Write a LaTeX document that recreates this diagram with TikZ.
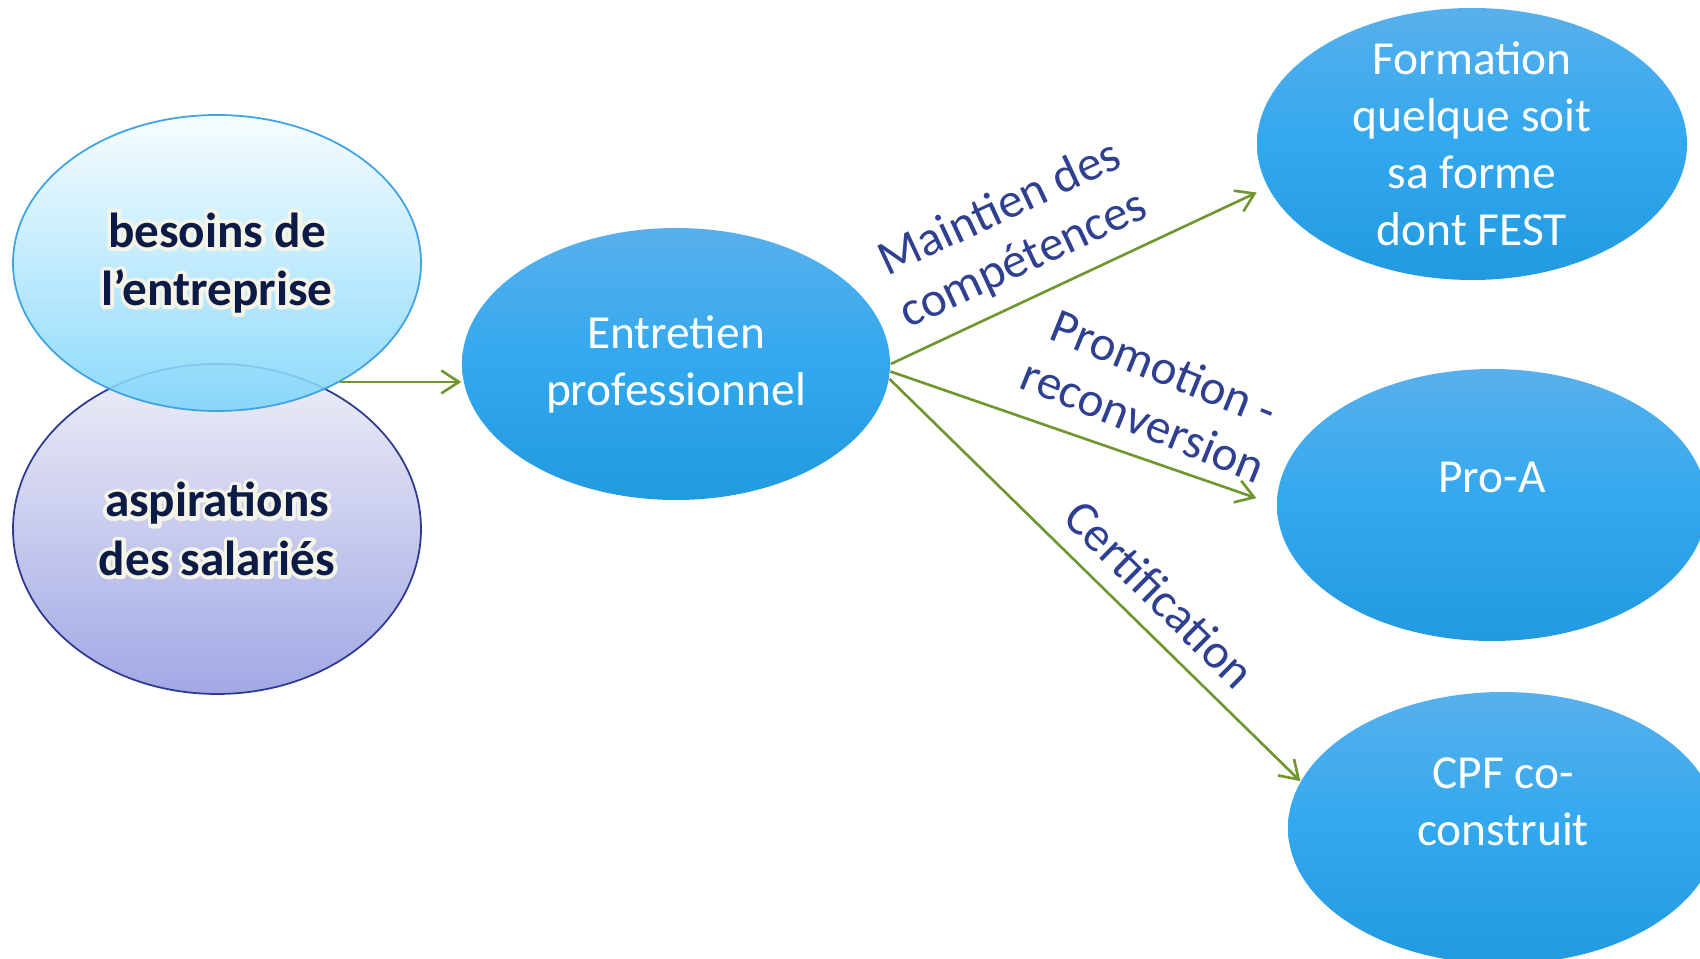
\documentclass[tikz,border=0pt]{standalone}
\usepackage{fontspec}
\setmainfont{Carlito}
\usetikzlibrary{shapes.geometric,arrows.meta}
\definecolor{blueTop}{RGB}{88,176,236}
\definecolor{blueMid}{RGB}{50,168,238}
\definecolor{blueBot}{RGB}{34,154,224}
\definecolor{besTop}{RGB}{246,252,255}
\definecolor{besBot}{RGB}{124,213,251}
\definecolor{besBorder}{RGB}{62,163,227}
\definecolor{aspTop}{RGB}{238,238,247}
\definecolor{aspBot}{RGB}{162,168,229}
\definecolor{aspBorder}{RGB}{46,58,143}
\definecolor{navyText}{RGB}{12,26,70}
\definecolor{glow}{RGB}{244,244,232}
\definecolor{labelBlue}{RGB}{47,64,144}
\definecolor{linkGreen}{RGB}{112,150,48}
\newcommand\glowtext[1]{\leavevmode\rlap{\special{pdf:literal direct q 2 Tr 2.2 w 1 j}\textcolor{glow}{#1}\special{pdf:literal direct 0 Tr Q}}\textcolor{navyText}{#1}}

\begin{document}
\begin{tikzpicture}[
    bubble/.style = {ellipse, minimum width=4.3cm, minimum height=2.72cm, inner ysep=-8pt, top color=blueTop, bottom color=blueBot, middle color=blueMid, text=white, align=center, font=\fontsize{13.5}{16.2}\selectfont},
    source/.style = {ellipse, minimum width=4.08cm, line width=0.5pt, align=center, text=navyText, font=\fontsize{14}{16.6}\selectfont\bfseries},
    link/.style = {draw=linkGreen, line width=0.75pt, -{Straight Barb[length=5pt,width=6.5pt]}},
    lbl/.style = {align=center, text=labelBlue, font=\fontsize{14}{16}\selectfont}
]
    \clip (0,0) rectangle (17,9.58);
    \node[source, minimum height=3.30cm, draw=aspBorder, top color=aspTop, bottom color=aspBot] (aspirations) at (2.17,4.29) {\glowtext{aspirations}\\\glowtext{des salariés}};
    \node[source, minimum height=2.96cm, draw=besBorder, top color=besTop, bottom color=besBot, fill opacity=0.88, draw opacity=1, text opacity=1] (besoins) at (2.17,6.95) {\glowtext{besoins de}\\\glowtext{l’entreprise}};
    \node[bubble, minimum width=4.28cm] (entretien) at (6.76,5.94) {Entretien\\professionnel};
    \node[bubble] (formation) at (14.72,8.14) {Formation\\quelque soit\\sa forme\\dont FEST};
    \node[bubble, text depth=0.56cm] (proa) at (14.92,4.53) {Pro-A};
    \node[bubble, text depth=0.52cm] (cpf) at (15.03,1.30) {CPF co-\\construit};

    \draw[link] (besoins.-44) -- (besoins.-44 -| entretien.west);
    \draw[link, shorten >=3.4pt] (entretien.east) -- (formation.192);
    \draw[link, shorten >=6pt] (entretien.-2.5) -- (proa.west);
    \draw[link] (entretien.-4.5) -- (cpf.167);

    \node[lbl, rotate=25] (maintien) at (10.12,7.23) {Maintien des\\compétences};
    \node[lbl, rotate=-22] (promotion) at (11.54,5.64) {Promotion -\\reconversion};
    \node[lbl, rotate=-44.5] (certification) at (11.6,3.64) {Certification};
\end{tikzpicture}
\end{document}
